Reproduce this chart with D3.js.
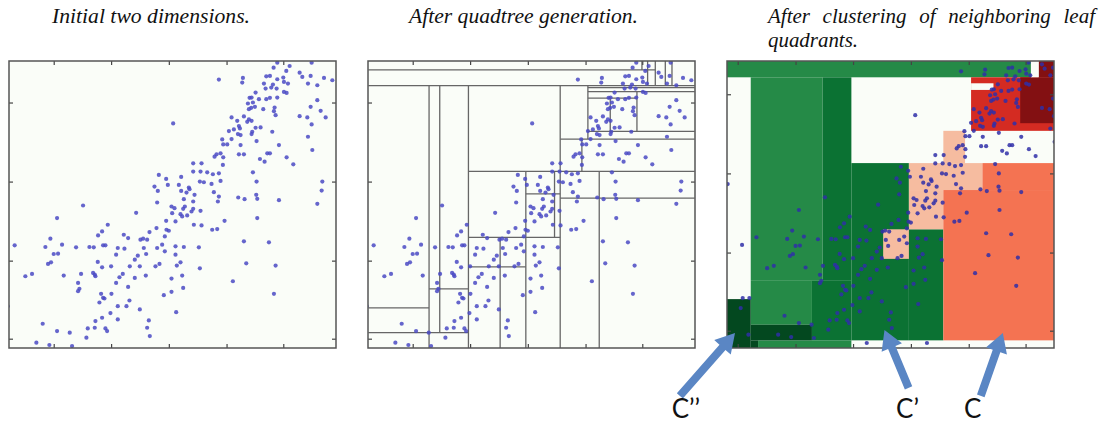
<!DOCTYPE html>
<html>
<head>
<meta charset="utf-8">
<title>Quadtree clustering</title>
<script src="https://d3js.org/d3.v7.min.js"></script>
<style>
  body { margin: 0; background: #fff; }
  svg { display: block; }
  .title { font-family: "Liberation Serif", "DejaVu Serif", serif; font-style: italic; font-size: 21px; fill: #111; }
  .label { font-family: Lato, "Open Sans", sans-serif; font-size: 26px; fill: #111; }
</style>
</head>
<body>
<div id="chart"></div>
<script>
// titles over each panel (one array per panel, one string per line)
const titles = [
  ['Initial two dimensions.'],
  ['After quadtree generation.'],
  ['After clustering of neighboring leaf', 'quadrants.']
]

// tick positions (data units, no labels in the figure)
const xTicks = [-13, 160, 332, 505, 678, 848]
const yTicks = [27, 262, 500, 738]

// scatter points
const pointsX = [
  830, 867, 933, 819, 857, 897,
  655, 727, 725, 797, 808, 830, 848, 905, 930, 970, 995, 790, 817, 850, 862, 922, 950, 795, 812, 828, 850, 858,
  765, 747, 753, 775, 797, 808, 830, 742, 757, 950, 745, 752, 763, 788, 822, 930,
  820, 825, 960, 693, 730, 745, 740, 753, 710, 897, 920, 975, 933, 518,
  715, 718, 765, 780, 700, 685, 755, 815, 712, 753, 922, 693, 665, 720,
  668, 680, 720, 768, 835, 935, 648, 660, 715, 730, 800, 808, 858, 642, 668,
  778, 792, 878, 667, 578, 603, 578, 600, 620, 637, 655, 757,
  475, 497, 542, 462, 472, 502, 535, 565, 567, 598, 610, 633, 660, 768, 965, 963,
  542, 558, 582, 578, 640, 655, 652, 713, 732, 767, 770, 835, 950, 470, 513, 522, 550, 553,
  548, 578, 573, 600, 515, 540, 545, 560, 248, 407, 170, 497, 525, 672, 770,
  580, 603, 635, 650, 498, 493, 505, 468, 447, 428, 420, 440, 383, 370, 322, 305, 293, 150, 730, 805,
  43, 135, 160, 173, 185, 227, 267, 280, 308, 315, 352, 372, 347, 430, 437, 412, 403, 470, 485, 525, 550, 595, 493, 525,
  143, 152, 292, 305, 332, 388, 418, 465, 477, 529, 540, 598, 737, 825, 75, 95, 190, 242, 278, 285, 283, 357, 367, 403,
  513, 545, 233, 237, 233, 347, 383, 436, 697, 513, 548, 490,
  302, 308, 312, 333, 297, 352, 378, 387, 820, 418, 527,
  330, 305, 352, 285, 127, 445,
  262, 283, 315, 320, 170, 208, 440, 448, 258,
  108, 147, 215,
  0, -43, 2, 22, -4, 19, 373, 553
]
const pointsY = [
  858, 848, 858, 843, 833, 828,
  807, 812, 798, 817, 818, 808, 813, 815, 818, 812, 805, 795, 792, 800, 795, 795, 790, 780, 783, 780, 770, 767,
  768, 752, 753, 748, 748, 752, 753, 735, 738, 745, 718, 722, 725, 718, 723, 725,
  712, 700, 713, 693, 696, 687, 680, 683, 683, 697, 693, 693, 672, 675,
  667, 660, 662, 663, 657, 652, 650, 650, 643, 643, 635, 628, 627, 640,
  612, 612, 610, 622, 610, 595, 582, 585, 582, 582, 585, 585, 573, 575, 573,
  568, 560, 552, 550, 555, 555, 530, 530, 528, 522, 525, 528,
  520, 508, 514, 485, 472, 490, 490, 482, 477, 500, 498, 493, 502, 500, 500, 473,
  472, 467, 460, 440, 468, 455, 440, 452, 447, 460, 448, 444, 433, 437, 425, 420, 447, 425,
  418, 418, 410, 412, 405, 402, 395, 398, 428, 406, 390, 382, 380, 382, 390,
  370, 368, 355, 357, 355, 335, 352, 360, 348, 328, 325, 325, 330, 340, 370, 350, 338, 328, 320, 317,
  308, 303, 282, 283, 310, 302, 303, 302, 308, 308, 300, 298, 280, 300, 282, 277, 265, 300, 310, 305, 303, 302, 290, 280,
  252, 257, 258, 242, 245, 245, 245, 245, 252, 247, 257, 239, 254, 247, 215, 222, 217, 222, 225, 215, 220, 212, 222, 210,
  208, 217, 195, 177, 170, 195, 183, 217, 200, 168, 180, 158,
  162, 150, 148, 162, 136, 125, 125, 142, 162, 115, 107,
  104, 90, 85, 80, 72, 82,
  58, 60, 58, 50, 50, 45, 60, 35, 30,
  15, 8, 5,
  285, 468, 125, 125, 95, 15, -10, -10
]

// quadtree splits: horizontal [x0, x1, y], vertical [x, y0, y1]
const splitH = [
  [27, 887, 836], [27, 1005, 789], [685, 1005, 783], [685, 1005, 771], [685, 832, 751],
  [685, 1005, 651], [602, 1005, 628], [327, 1005, 531], [602, 1005, 450], [499, 602, 463],
  [327, 602, 332], [327, 499, 243], [209, 327, 177], [27, 209, 120], [27, 327, 45]
]
const splitV = [
  [209, -2, 789], [241, 45, 789], [327, -2, 789], [602, -2, 789], [685, 628, 789],
  [752, 651, 751], [832, 651, 771], [667, 531, 628], [719, -2, 531], [499, -2, 531],
  [585, 332, 531], [422, -2, 332], [847, 836, 863], [864, 789, 863], [887, 789, 863],
  [917, 789, 863], [937, 789, 863]
]

// merged clusters [x0, x1, y0, y1]
const mediumGreen = [[-45, 864, 789, 838], [26, 241, 177, 789], [26, 209, 45, 177], [48, 327, -25, -2]]
const veryDarkGreen = [[-45, 26, -25, 122], [26, 209, -2, 45], [26, 48, -25, -2]]
const darkGreen = [[241, 327, 177, 789], [209, 327, -2, 177], [327, 499, -2, 531], [499, 602, -2, 332]]
const peach = [[602, 667, 531, 628], [499, 719, 450, 531], [499, 602, 332, 450], [422, 499, 243, 332]]
const orange = [[719, 933, 450, 531], [602, 933, -2, 450]]
const red = [[685, 933, 628, 789]]
const darkRed = [[832, 933, 651, 789], [887, 933, 789, 838]]
const blank = [[685, 752, 751, 771], [864, 887, 789, 838]]

// arrows in third panel data units: tail, tip, label position, label
const arrows = [
  { tail: [-186, -169], tip: [-21, 20], at: [-168, -236], label: 'C\u2019\u2019' },
  { tail: [498, -145], tip: [426, 29], at: [495, -236], label: 'C\u2019' },
  { tail: [714, -169], tip: [780, 20], at: [690, -236], label: 'C' }
]

const W = 1100, H = 424
const panelW = 327, panelH = 287, panelTop = 61
const panelLeft = [9, 368, 727]
const titleInset = [43, 41, 41]
const titleWidth = [[198], [229], [327, 90]]
const paper = '#fafdf8'

const svg = d3.select('#chart').append('svg')
    .attr('width', W)
    .attr('height', H)

const points = pointsX.map((d, i) => ({ x: d, y: pointsY[i] }))

function makePanel(i, xDomain, yDomain) {
    const left = panelLeft[i]
    const x = d3.scaleLinear().domain(xDomain).range([left, left + panelW])
    const y = d3.scaleLinear().domain(yDomain).range([panelTop + panelH, panelTop])

    svg.append('clipPath').attr('id', 'clip' + i)
        .append('rect')
        .attr('x', left).attr('y', panelTop)
        .attr('width', panelW).attr('height', panelH)

    svg.append('rect')
        .attr('x', left).attr('y', panelTop)
        .attr('width', panelW).attr('height', panelH)
        .attr('fill', paper)

    const g = svg.append('g').attr('clip-path', `url(#clip${i})`)

    // title, first line of the last one is justified
    titles[i].forEach((line, k) => {
        const t = svg.append('text')
            .attr('class', 'title')
            .attr('x', left + titleInset[i])
            .attr('y', 23 + k * 24)
            .text(line)
        const natural = t.node().getComputedTextLength()
        const target = titleWidth[i][k]
        if (i === 2 && k === 0) {
            const gaps = line.split(' ').length - 1
            t.style('word-spacing', ((target - natural) / gaps) + 'px')
        } else {
            t.attr('textLength', target).attr('lengthAdjust', 'spacingAndGlyphs')
        }
    })
    return { x, y, g, left }
}

function drawTicks(p) {
    const xt = xTicks.filter(d => d > p.x.domain()[0] && d < p.x.domain()[1])
    const yt = yTicks.filter(d => d > p.y.domain()[0] && d < p.y.domain()[1])
    const axes = [
        [d3.axisTop(p.x).tickValues(xt), `translate(0,${panelTop})`],
        [d3.axisBottom(p.x).tickValues(xt), `translate(0,${panelTop + panelH})`],
        [d3.axisLeft(p.y).tickValues(yt), `translate(${p.left},0)`],
        [d3.axisRight(p.y).tickValues(yt), `translate(${p.left + panelW},0)`]
    ]
    axes.forEach(([ax, tr]) => {
        const a = svg.append('g')
            .attr('transform', tr)
            .call(ax.tickSizeInner(-4).tickSizeOuter(0).tickFormat(''))
        a.select('.domain').remove()
        a.selectAll('line').attr('stroke', '#444').attr('stroke-width', 1.2)
    })
    svg.append('rect')
        .attr('x', p.left).attr('y', panelTop)
        .attr('width', panelW).attr('height', panelH)
        .attr('fill', 'none')
        .attr('stroke', '#555')
        .attr('stroke-width', 1.5)
}

function drawPoints(p, color) {
    p.g.selectAll('circle.pt')
        .data(points)
        .enter()
        .append('circle')
        .attr('class', 'pt')
        .attr('cx', d => p.x(d.x))
        .attr('cy', d => p.y(d.y))
        .attr('r', 2.1)
        .attr('fill', color)
        .attr('opacity', 0.85)
}

// panel 1
const p1 = makePanel(0, [26, 1006], [-1, 863])
drawPoints(p1, '#4a4ac4')
drawTicks(p1)

// panel 2
const p2 = makePanel(1, [26, 1006], [-1, 863])
p2.g.selectAll('line.h')
    .data(splitH)
    .enter()
    .append('line')
    .attr('x1', d => p2.x(d[0])).attr('x2', d => p2.x(d[1]))
    .attr('y1', d => p2.y(d[2])).attr('y2', d => p2.y(d[2]))
    .attr('stroke', '#666').attr('stroke-width', 1.3)
p2.g.selectAll('line.v')
    .data(splitV)
    .enter()
    .append('line')
    .attr('x1', d => p2.x(d[0])).attr('x2', d => p2.x(d[0]))
    .attr('y1', d => p2.y(d[1])).attr('y2', d => p2.y(d[2]))
    .attr('stroke', '#666').attr('stroke-width', 1.3)
drawPoints(p2, '#4a4ac4')
drawTicks(p2)

// panel 3
const p3 = makePanel(2, [-45, 933], [-25, 838])
const layers = [
    [mediumGreen, '#258a47'],
    [veryDarkGreen, '#03481f'],
    [darkGreen, '#0b7233'],
    [peach, '#f6bca0'],
    [orange, '#f47352'],
    [red, '#d42b22'],
    [darkRed, '#831012'],
    [blank, paper]
]
layers.forEach(([rects, color]) => {
    p3.g.append('g').selectAll('rect')
        .data(rects)
        .enter()
        .append('rect')
        .attr('x', d => p3.x(d[0]))
        .attr('y', d => p3.y(d[3]))
        .attr('width', d => p3.x(d[1]) - p3.x(d[0]))
        .attr('height', d => p3.y(d[2]) - p3.y(d[3]))
        .attr('fill', color)
})
drawPoints(p3, '#2f2fa8')
drawTicks(p3)

// arrows pointing at the clusters
function arrowPath(a, b) {
    const dx = b[0] - a[0], dy = b[1] - a[1]
    const len = Math.hypot(dx, dy)
    const ux = dx / len, uy = dy / len, nx = -uy, ny = ux
    const shaft = 4, head = 11, headLen = 19
    const bx = b[0] - ux * headLen, by = b[1] - uy * headLen
    const pts = [
        [a[0] + nx * shaft, a[1] + ny * shaft],
        [bx + nx * shaft, by + ny * shaft],
        [bx + nx * head, by + ny * head],
        b,
        [bx - nx * head, by - ny * head],
        [bx - nx * shaft, by - ny * shaft],
        [a[0] - nx * shaft, a[1] - ny * shaft]
    ]
    return 'M' + pts.map(q => q.join(',')).join('L') + 'Z'
}

const ann = svg.append('g')
arrows.forEach(d => {
    ann.append('path')
        .attr('d', arrowPath([p3.x(d.tail[0]), p3.y(d.tail[1])], [p3.x(d.tip[0]), p3.y(d.tip[1])]))
        .attr('fill', '#5a86c4')
    ann.append('text')
        .attr('class', 'label')
        .attr('x', p3.x(d.at[0]))
        .attr('y', p3.y(d.at[1]))
        .attr('text-anchor', 'middle')
        .text(d.label)
})
</script>
</body>
</html>
